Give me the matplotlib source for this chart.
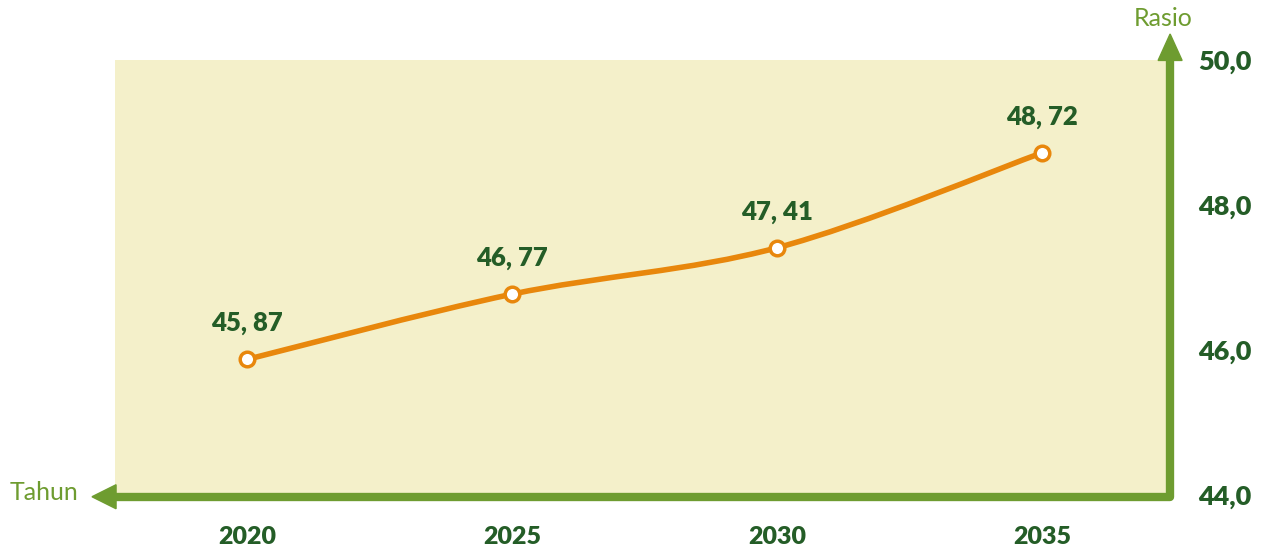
import matplotlib
matplotlib.use("Agg")
import matplotlib.pyplot as plt
import numpy as np
from matplotlib.lines import Line2D
from matplotlib.patches import Polygon
from matplotlib.path import Path
from matplotlib.patches import PathPatch

years = [2020, 2025, 2030, 2035]
ratios = [45.87, 46.77, 47.41, 48.72]
yticks = [44.0, 46.0, 48.0, 50.0]
x_title = "Tahun"
y_title = "Rasio"

BG = "#F4F0CA"
AXG = "#6E9C30"
DARK = "#245D27"
ORANGE = "#E8870C"
FONT = "Lato"
WEIGHT = "heavy"

fig = plt.figure(figsize=(12.66, 5.56), dpi=100)
W, H = 1266, 556
L, R, T, B = 115, 1168, 60, 495
ax = fig.add_axes([L / W, 1 - B / H, (R - L) / W, (B - T) / H])
ax.set_facecolor(BG)
for s in ax.spines.values():
    s.set_visible(False)

ax.set_xlim(2020 - (247 - L) / 265 * 5, 2035 + (R - 1042) / 265 * 5)
ax.set_ylim(44, 50)

# smooth curve (Bezier through points, Catmull-Rom style control points)
xs = np.array(years, float)
ys = np.array(ratios, float)
verts = [(xs[0], ys[0])]
codes = [Path.MOVETO]
n = len(xs)
for i in range(n - 1):
    p0 = np.array([xs[max(i - 1, 0)], ys[max(i - 1, 0)]])
    p1 = np.array([xs[i], ys[i]])
    p2 = np.array([xs[i + 1], ys[i + 1]])
    p3 = np.array([xs[min(i + 2, n - 1)], ys[min(i + 2, n - 1)]])
    c1 = p1 + (p2 - p0) / 6.0
    c2 = p2 - (p3 - p1) / 6.0
    verts += [tuple(c1), tuple(c2), tuple(p2)]
    codes += [Path.CURVE4] * 3
ax.add_patch(PathPatch(Path(verts, codes), facecolor="none", edgecolor=ORANGE,
                       lw=4.0, capstyle="round", zorder=3))
ax.plot(years, ratios, linestyle="none", marker="o", markersize=10.5,
        markerfacecolor="white", markeredgecolor=ORANGE, markeredgewidth=2.5, zorder=4)

for x, y in zip(years, ratios):
    lab = f"{y:.2f}".replace(".", ", ")
    ax.annotate(lab, (x, y), xytext=(0, 26), textcoords="offset points",
                ha="center", va="center", fontsize=18.5, fontweight=WEIGHT,
                color=DARK, family=FONT, zorder=5)

ax.set_xticks(years)
ax.set_xticklabels([str(y) for y in years])
ax.set_yticks(yticks)
ax.set_yticklabels([f"{v:.1f}".replace(".", ",") for v in yticks])
ax.yaxis.tick_right()
ax.tick_params(axis="both", length=0)
ax.tick_params(axis="x", pad=22)
ax.tick_params(axis="y", pad=22)
for lbl in ax.get_xticklabels():
    lbl.set_fontsize(18)
for lbl in ax.get_yticklabels():
    lbl.set_fontsize(19.5)
    lbl.set_horizontalalignment("left")
for lbl in ax.get_xticklabels() + ax.get_yticklabels():
    lbl.set_fontweight(WEIGHT)
    lbl.set_color(DARK)
    lbl.set_family(FONT)

# axis lines with arrows (axes fraction coordinates)
aw, ah = R - L, B - T
tr = ax.transAxes
ax.add_line(Line2D([0, 1.002, 1.002], [-0.004, -0.004, 1.0], transform=tr, color=AXG,
                   lw=6, solid_joinstyle="round", solid_capstyle="butt", clip_on=False, zorder=6))
# left arrow head
ax.add_patch(Polygon([(-23 / aw, -0.004), (0.001, -0.004 + 12 / ah), (0.001, -0.004 - 12 / ah)],
                     closed=True, transform=tr, color=AXG, clip_on=False, zorder=6))
# up arrow head
ax.add_patch(Polygon([(1.002, 1 + 26 / ah), (1.002 - 12 / aw, 0.999), (1.002 + 12 / aw, 0.999)],
                     closed=True, transform=tr, color=AXG, clip_on=False, zorder=6))

fig.text(10 / W, 1 - 492 / H, x_title, ha="left", va="center", fontsize=18,
         color=AXG, family=FONT)
fig.text(1163 / W, 1 - 18 / H, y_title, ha="center", va="center", fontsize=18,
         color=AXG, family=FONT)

fig.savefig("out.png", dpi=100, facecolor="white")
